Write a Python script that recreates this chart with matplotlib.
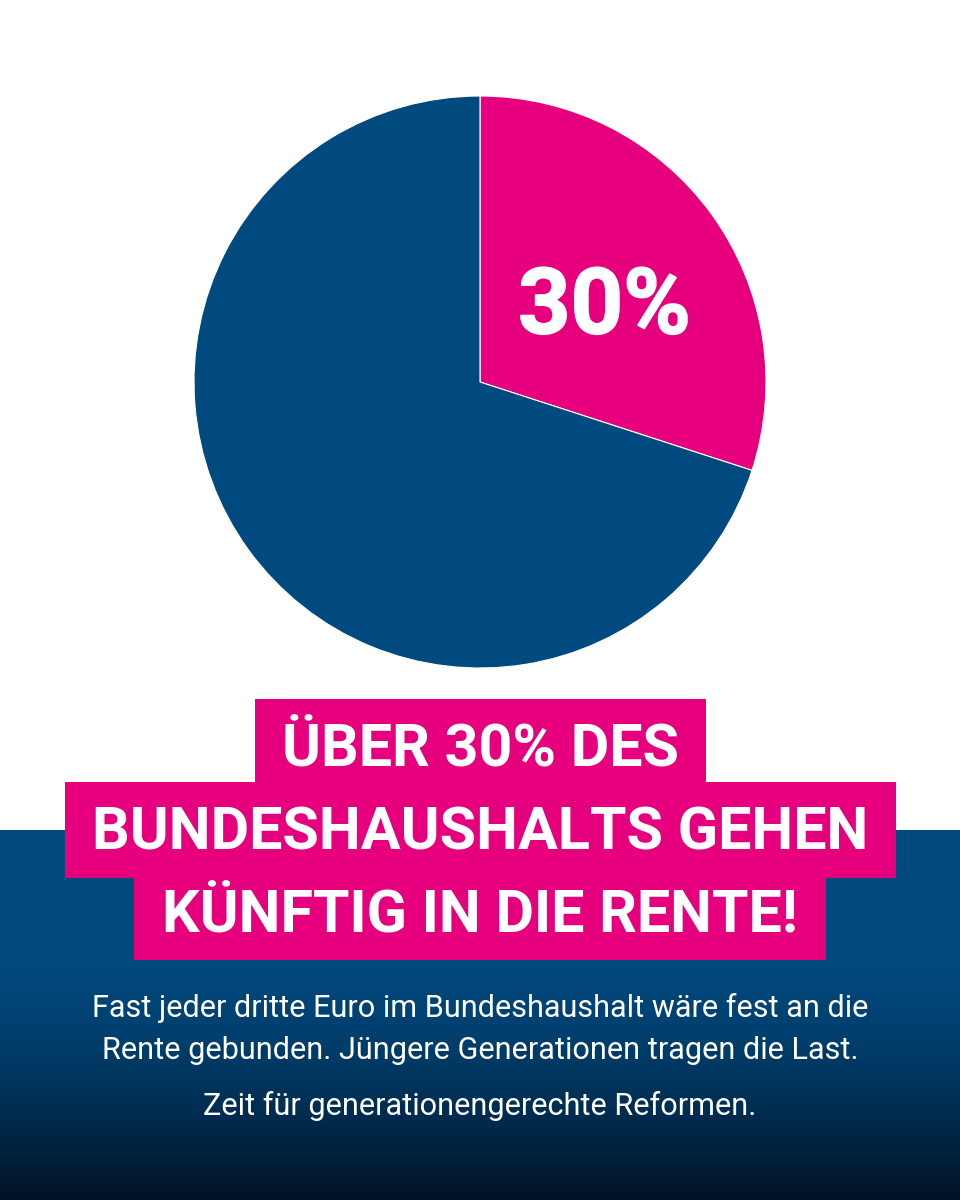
import numpy as np
import matplotlib
matplotlib.use("Agg")
import matplotlib.pyplot as plt
import matplotlib.patheffects as pe
from matplotlib.patches import Rectangle

# Data
shares = [30, 70]
slice_colors = ["#E6007E", "#004A7F"]
pie_label = "30%"
headline = ["ÜBER 30% DES", "BUNDESHAUSHALTS GEHEN", "KÜNFTIG IN DIE RENTE!"]
body = [
    "Fast jeder dritte Euro im Bundeshaushalt wäre fest an die",
    "Rente gebunden. Jüngere Generationen tragen die Last.",
    "Zeit für generationengerechte Reformen.",
]

plt.rcParams["font.family"] = "Roboto"

fig = plt.figure(figsize=(9.6, 12), dpi=100, facecolor="white")

# Background in pixel coordinates
bg = fig.add_axes([0, 0, 1, 1])
bg.set_xlim(0, 960)
bg.set_ylim(1200, 0)
bg.axis("off")

# Blue panel that fades to dark at the bottom
grad = np.linspace(830, 1200, 370).reshape(-1, 1)
c1 = np.array([0x00, 0x4A, 0x7F]) / 255
c2 = np.array([0x00, 0x12, 0x26]) / 255
stops = np.interp(grad, [960, 1040, 1120, 1200], [0, 0.2, 0.56, 1])
img = c1 + (c2 - c1) * stops[:, :, None]
bg.imshow(img, extent=[0, 960, 1200, 830], aspect="auto", zorder=1)
bg.set_xlim(0, 960)
bg.set_ylim(1200, 0)

# Headline boxes
boxes = [(255, 699, 451, 84), (65, 782, 831, 96), (134, 877, 692, 83)]
for x, y, w, h in boxes:
    bg.add_patch(Rectangle((x, y), w, h, color="#E6007E", lw=0, zorder=2))

for line, yb in zip(headline, [766, 849, 932]):
    bg.text(480, yb, line, color="white", fontsize=42.7, fontweight="bold",
            ha="center", va="baseline", zorder=3)

for line, yb in zip(body, [1017, 1059, 1115]):
    bg.text(480, yb, line, color="white", fontsize=22.1,
            ha="center", va="baseline", zorder=3)

# Pie
ax = fig.add_axes([194 / 960, 1 - 668 / 1200, 572 / 960, 572 / 1200])
ax.pie(shares, colors=slice_colors, startangle=90, counterclock=False,
       wedgeprops={"edgecolor": "white", "linewidth": 0.8})
ax.set_xlim(-1, 1)
ax.set_ylim(-1, 1)
ax.text(0.435, 0.17, pie_label, color="white", fontsize=66, fontweight="bold",
        ha="center", va="baseline",
        path_effects=[pe.withStroke(linewidth=1.2, foreground="white")])

fig.savefig("out.png", dpi=100)
